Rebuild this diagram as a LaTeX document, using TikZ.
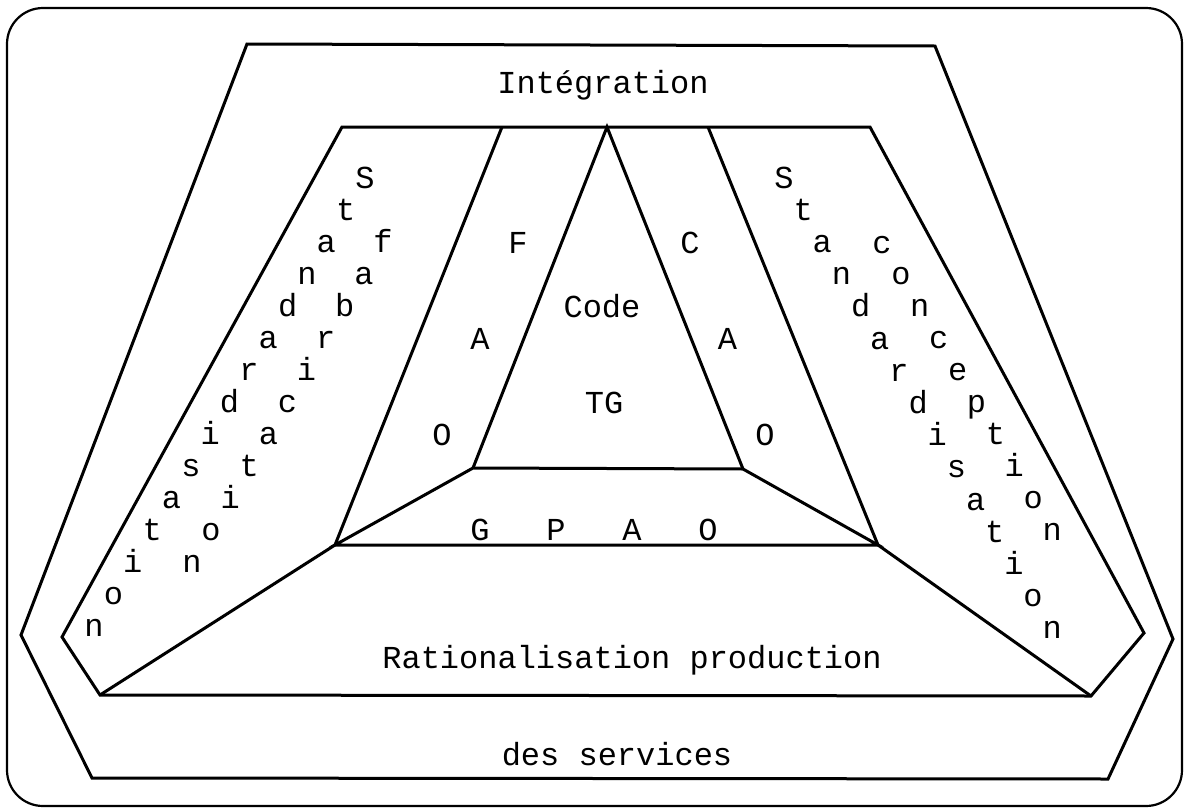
\documentclass[tikz,border=0pt]{standalone}
\usepackage{fontspec}
\setmonofont{Liberation Mono}

\begin{document}
\begin{tikzpicture}[x=0.5pt, y=-0.5pt,
    trait/.style={line width=1.5pt, line join=miter},
    texte/.style={font=\ttfamily\fontsize{16}{19}\selectfont, anchor=base, inner sep=0pt}]

    \useasboundingbox (0,0) rectangle (1185,809);

    % Cadre arrondi
    \draw[line width=1.1pt, rounded corners=18pt] (7,8) rectangle (1182,806);

    % Sommets du contour extérieur
    \coordinate (o1) at (247,44);
    \coordinate (o2) at (935,46);
    \coordinate (o3) at (1173,639);
    \coordinate (o4) at (1108,779);
    \coordinate (o5) at (92,778);
    \coordinate (o6) at (21,635);

    % Sommets du contour intérieur
    \coordinate (i1) at (342,127);
    \coordinate (i2) at (870,127);
    \coordinate (i3) at (1144,633);
    \coordinate (i4) at (1091,696);
    \coordinate (i5) at (100,695);
    \coordinate (i6) at (62,637);

    % Points du centre
    \coordinate (hg) at (502,127);
    \coordinate (sommet) at (607,127);
    \coordinate (hd) at (708,127);
    \coordinate (bg) at (335,545);
    \coordinate (bd) at (878,545);
    \coordinate (tg) at (473,468);
    \coordinate (td) at (743,469);

    % Contours
    \draw[trait] (o1) -- (o2) -- (o3) -- (o4) -- (o5) -- (o6) -- cycle;
    \draw[trait] (i1) -- (i2) -- (i3) -- (i4) -- (i5) -- (i6) -- cycle;

    % Bandes obliques
    \draw[trait] (hg) -- (bg) -- (i5);
    \draw[trait] (hd) -- (bd) -- (i4);
    \draw[trait] (tg) -- (sommet) -- (td);

    % Trapèze GPAO
    \draw[trait] (bg) -- (tg) -- (td) -- (bd) -- cycle;

    % Textes horizontaux
    \node[texte] (integ) at (603,93) {Intégration};
    \node[texte] (code) at (602,317) {Code};
    \node[texte] (tgc) at (604,413) {TG};
    \node[texte] (ratio) at (632,668) {Rationalisation production};
    \node[texte] (serv) at (617,765) {des services};

    % GPAO
    \foreach \c [count=\k] in {G,P,A,O}
        \node[texte] (gpao\k) at ({480+76*(\k-1)},540) {\c};

    % FAO et CAO
    \foreach \c [count=\k] in {F,A,O} {
        \node[texte] (fao\k) at ({518-38*(\k-1)},{253+96*(\k-1)}) {\c};
    }
    \foreach \c [count=\k] in {C,A,O} {
        \node[texte] (cao\k) at ({690+37.5*(\k-1)},{253+96*(\k-1)}) {\c};
    }

    % Bande gauche
    \foreach \c [count=\k] in {S,t,a,n,d,a,r,d,i,s,a,t,i,o,n}
        \node[texte] (stg\k) at ({365-19.35*(\k-1)},{188+32*(\k-1)}) {\c};
    \foreach \c [count=\k] in {f,a,b,r,i,c,a,t,i,o,n}
        \node[texte] (fab\k) at ({383-19.1*(\k-1)},{252+32*(\k-1)}) {\c};

    % Bande droite
    \foreach \c [count=\k] in {S,t,a,n,d,a,r,d,i,s,a,t,i,o,n}
        \node[texte] (std\k) at ({784+19.16*(\k-1)},{188+32.2*(\k-1)}) {\c};
    \foreach \c [count=\k] in {c,o,n,c,e,p,t,i,o,n}
        \node[texte] (conc\k) at ({882+18.9*(\k-1)},{253+31.9*(\k-1)}) {\c};

\end{tikzpicture}
\end{document}
